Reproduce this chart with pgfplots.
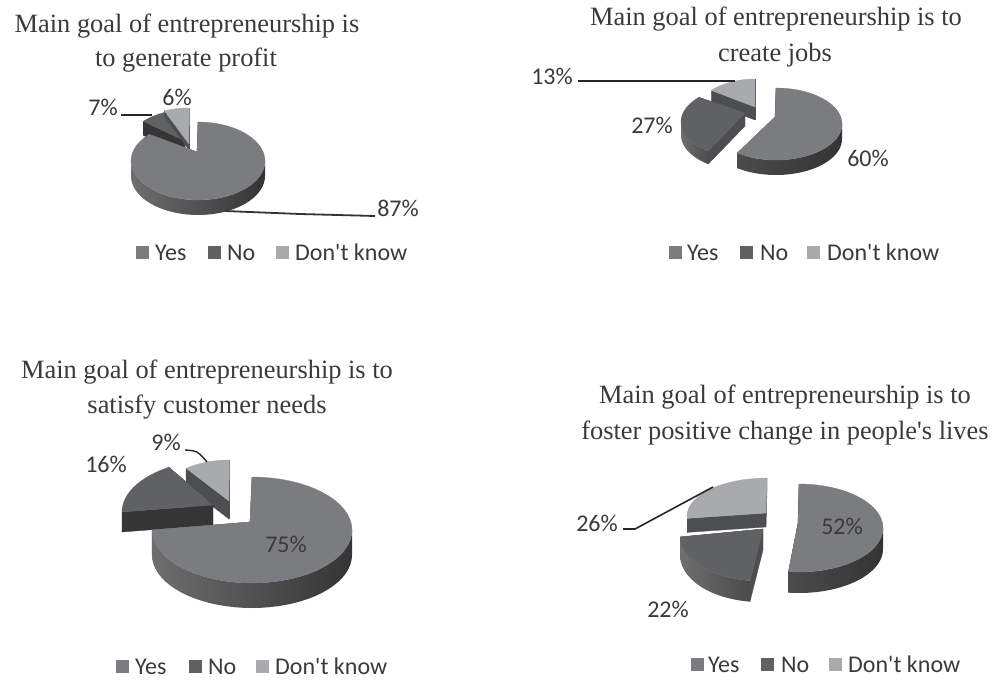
\documentclass[border=0pt]{standalone}
\usepackage{pgfplots}
\pgfplotsset{compat=1.18}
\usepackage{fontspec}
\setmainfont{Liberation Serif}
\newfontfamily\labelfont{Carlito}

\definecolor{yesTop}{HTML}{7B7C7F}
\definecolor{noTop}{HTML}{606163}
\definecolor{dkTop}{HTML}{A9AAAD}
\definecolor{cutDark}{HTML}{353536}
\definecolor{cutMid}{HTML}{4D4E50}
\definecolor{sideA}{HTML}{6E6E6F}
\definecolor{sideB}{HTML}{5B5B5C}
\definecolor{sideC}{HTML}{343435}
\definecolor{sideD}{HTML}{4B4B4C}
\definecolor{inkText}{HTML}{3A3A3A}

% One slice of a tilted pie.
% #1 cx, #2 cy, #3 rx, #4 ry, #5 thickness, #6/#7 apex x/y,
% #8 start in percent, #9 value in percent; the colours come from \SliceColors.
\newcommand\SliceColors[5]{\def\cTop{#1}\def\cCut{#2}\def\cL{#3}\def\cM{#4}\def\cR{#5}}
\newcommand\PieSlice[9]{%
  \pgfmathsetmacro\angA{3.6*#8}%
  \pgfmathsetmacro\angB{3.6*(#8+#9)}%
  % radial cut faces, hidden by the top face where they lie behind it
  \foreach \ang in {\angA,\angB}{%
    \pgfmathsetmacro\rimX{#1+#3*sin(\ang)}%
    \pgfmathsetmacro\rimY{#2-#4*cos(\ang)}%
    \pgfmathsetmacro\rimZ{\rimY+#5}%
    \pgfmathsetmacro\apZ{#7+#5}%
    \edef\cmd{\noexpand\addplot[fill=\cCut,draw=\cCut,line width=0.3pt] coordinates
      {(#6,#7) (\rimX,\rimY) (\rimX,\rimZ) (#6,\apZ)};}\cmd
  }%
  % outer wall, only where it faces the viewer
  \pgfmathsetmacro\sideA{max(\angA,90)}%
  \pgfmathsetmacro\sideB{min(\angB,270)}%
  \ifdim\sideA pt<\sideB pt\relax
    \gdef\wall{}%
    \foreach \i in {0,...,36}{%
      \pgfmathsetmacro\t{\sideA+(\sideB-\sideA)*\i/36}%
      \pgfmathsetmacro\px{#1+#3*sin(\t)}%
      \pgfmathsetmacro\py{#2-#4*cos(\t)}%
      \xdef\wall{\wall (\px,\py)}%
    }%
    \foreach \i in {36,35,...,0}{%
      \pgfmathsetmacro\t{\sideA+(\sideB-\sideA)*\i/36}%
      \pgfmathsetmacro\px{#1+#3*sin(\t)}%
      \pgfmathsetmacro\py{#2-#4*cos(\t)+#5}%
      \xdef\wall{\wall (\px,\py)}%
    }%
    \edef\cmd{\noexpand\addplot[draw=none,left color=\cL,middle color=\cM,right color=\cR] coordinates {\wall};}\cmd
  \fi
  % top face
  \gdef\face{(#6,#7)}%
  \foreach \i in {0,...,48}{%
    \pgfmathsetmacro\t{\angA+(\angB-\angA)*\i/48}%
    \pgfmathsetmacro\px{#1+#3*sin(\t)}%
    \pgfmathsetmacro\py{#2-#4*cos(\t)}%
    \xdef\face{\face (\px,\py)}%
  }%
  \edef\cmd{\noexpand\addplot[fill=\cTop,draw=\cTop,line width=0.3pt] coordinates {\face (#6,#7)};}\cmd
}

% Legend row: marker x and text x for the three answers, then the row's y
\newcommand\LegendRow[7]{%
  \addplot[only marks,mark=square*,mark size=6pt,mark options={fill=yesTop,draw=yesTop}] coordinates {(#1,#7)};
  \addplot[only marks,mark=square*,mark size=6pt,mark options={fill=noTop,draw=noTop}] coordinates {(#3,#7)};
  \addplot[only marks,mark=square*,mark size=6pt,mark options={fill=dkTop,draw=dkTop}] coordinates {(#5,#7)};
  \node[anchor=base west,inner sep=0pt,lab] at ([yshift=-8pt]axis cs:#2,#7) {Yes};
  \node[anchor=base west,inner sep=0pt,lab] at ([yshift=-8pt]axis cs:#4,#7) {No};
  \node[anchor=base west,inner sep=0pt,lab] at ([yshift=-8pt]axis cs:#6,#7) {Don't know};
}

\begin{document}
\begin{tikzpicture}[
  ttl/.style={inner sep=0pt,text=inkText,font=\fontsize{26.4}{30}\selectfont},
  lab/.style={text=inkText,font=\labelfont\fontsize{24}{26}\selectfont},
  val/.style={inner sep=0pt,lab}]
% the page is exactly the plotting area
\path[use as bounding box] (0,0) rectangle (992pt,680pt);
\begin{axis}[
  anchor=south west, at={(0,0)},
  scale only axis, width=992pt, height=680pt,
  xmin=0, xmax=992, ymin=0, ymax=680, y dir=reverse,
  hide axis, clip=false]

% --- generate profit: 87, 7, 6 ---
\SliceColors{noTop}{cutDark}{sideD}{sideD}{sideC}
\PieSlice{192}{148}{67}{39}{14}{185}{141}{87}{7}
\SliceColors{dkTop}{cutMid}{sideD}{sideD}{sideC}
\PieSlice{189}{147}{67}{39}{6}{189}{144}{94}{6}
\SliceColors{yesTop}{cutMid}{sideA}{sideB}{sideC}
\PieSlice{198}{161}{67}{39}{15}{197}{152}{0}{87}
\addplot[black!85,line width=2pt] coordinates {(121,115) (152,115)};
\addplot[black!80,line width=1.8pt] coordinates {(225,211) (300,214) (375,216)};
\node[val] at (axis cs:103,107) {7\%};
\node[val] at (axis cs:177,97) {6\%};
\node[val] at (axis cs:398,208) {87\%};
\node[ttl] at (axis cs:187,26) {Main goal of entrepreneurship is};
\node[ttl] at (axis cs:186,60) {to generate profit};
\LegendRow{142}{155}{214}{227}{282}{295}{252}

% --- create jobs: 60, 27, 13 ---
\SliceColors{dkTop}{cutMid}{sideD}{sideD}{sideC}
\PieSlice{755}{115}{60}{36}{13}{755}{107}{87}{13}
\SliceColors{noTop}{cutMid}{sideA}{sideB}{sideD}
\PieSlice{747}{122}{66}{36}{13}{745}{113}{60}{27}
\SliceColors{yesTop}{cutMid}{sideD}{sideB}{sideC}
\PieSlice{776}{124}{66}{36}{15}{775}{117}{0}{60}
\addplot[black!85,line width=2.4pt] coordinates {(578,81) (735,81)};
\node[val] at (axis cs:552,76) {13\%};
\node[val] at (axis cs:652,125) {27\%};
\node[val] at (axis cs:868,158) {60\%};
\node[ttl] at (axis cs:776,19) {Main goal of entrepreneurship is to};
\node[ttl] at (axis cs:775,55) {create jobs};
\LegendRow{675}{687}{746}{760}{813}{827}{252}

% --- satisfy customer needs: 75, 16, 9 ---
\SliceColors{dkTop}{cutMid}{sideD}{sideD}{sideC}
\PieSlice{229}{513}{80}{53}{18}{229}{501}{91}{9}
\SliceColors{noTop}{cutDark}{sideD}{sideD}{sideC}
\PieSlice{223}{512}{101}{53}{20}{213}{505}{75}{16}
\SliceColors{yesTop}{cutMid}{sideA}{sideB}{sideC}
\PieSlice{252}{530}{100}{53}{25}{250}{522}{0}{75}
\addplot[black!85,line width=1.4pt,smooth] coordinates {(185,450) (197,452) (207,462)};
\node[val] at (axis cs:166,442) {9\%};
\node[val] at (axis cs:106,464) {16\%};
\node[val] at (axis cs:286,544) {75\%};
\node[ttl] at (axis cs:207,372) {Main goal of entrepreneurship is to};
\node[ttl] at (axis cs:207,407) {satisfy customer needs};
\LegendRow{122}{135}{195}{208}{262}{275}{666}

% --- foster positive change: 52, 22, 26 ---
\SliceColors{dkTop}{cutMid}{sideD}{sideD}{sideC}
\PieSlice{767}{516}{80}{38}{14}{766}{513}{74}{26}
\SliceColors{noTop}{cutMid}{sideA}{sideB}{sideD}
\PieSlice{760}{534}{80}{47}{21}{763}{529}{52}{22}
\SliceColors{yesTop}{cutDark}{sideD}{sideD}{sideC}
\PieSlice{799}{528}{84}{44}{21}{798}{523}{0}{52}
\addplot[black!85,line width=1.6pt] coordinates {(623,529) (635,529) (713,487)};
\node[val] at (axis cs:597,523) {26\%};
\node[val] at (axis cs:842,526) {52\%};
\node[val] at (axis cs:668,609) {22\%};
\node[ttl] at (axis cs:785,397) {Main goal of entrepreneurship is to};
\node[ttl] at (axis cs:785,433) {foster positive change in people\textquotesingle s lives};
\LegendRow{697}{708}{767}{781}{835}{848}{664}
\end{axis}
\end{tikzpicture}
\end{document}
